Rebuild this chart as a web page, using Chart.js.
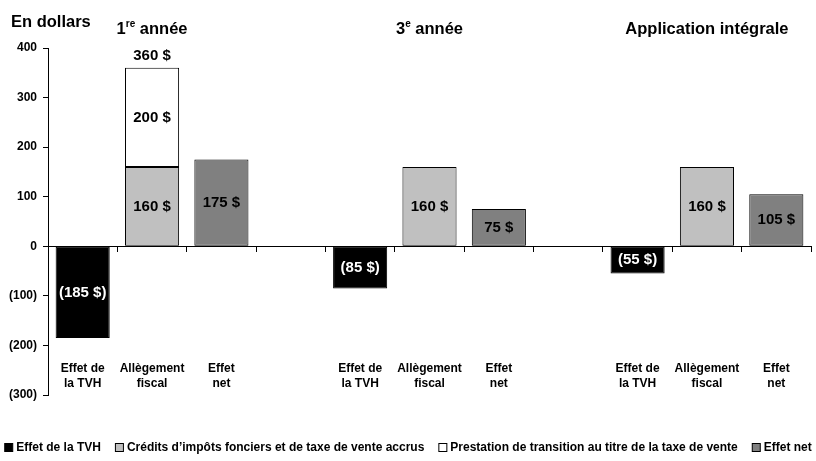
<!DOCTYPE html>
<html>
<head>
<meta charset="utf-8">
<script src="https://cdn.jsdelivr.net/npm/chart.js@4"></script>
<style>
  html, body { margin: 0; padding: 0; background: #fff; }
  #wrap { width: 816px; height: 461px; position: relative; }
</style>
</head>
<body>
<div id="wrap"><canvas id="chart"></canvas></div>
<script>
// catégories (une colonne vide sépare chaque période)
const categories = [
    ['Effet de', 'la TVH'], ['Allègement', 'fiscal'], ['Effet', 'net'], '',
    ['Effet de', 'la TVH'], ['Allègement', 'fiscal'], ['Effet', 'net'], '',
    ['Effet de', 'la TVH'], ['Allègement', 'fiscal'], ['Effet', 'net']
];
// périodes : [chiffre, exposant, reste], centrées sur la colonne du milieu
const periods = [['1', 're', ' année'], ['3', 'e', ' année'], ['Application intégrale', '', '']];
const periodColumns = [1, 5, 9];

// séries (en dollars)
const tvhEffect = [-185, null, null, null, -85, null, null, null, -55, null, null];
const taxCredits = [null, 160, null, null, null, 160, null, null, null, 160, null];
const transitionBenefit = [null, 200, null, null, null, null, null, null, null, null, null];
const netEffect = [null, null, 175, null, null, null, 75, null, null, null, 105];

const yTicks = [400, 300, 200, 100, 0, -100, -200, -300];

const FONT = "'Liberation Sans Narrow', 'Arial Narrow', 'Liberation Sans', Arial, sans-serif";
Chart.defaults.font.family = FONT;
Chart.defaults.font.weight = 'bold';
Chart.defaults.color = '#000';

// format des montants : négatifs entre parenthèses
function fmtDollars(v) {
    return v < 0 ? `(${-v} $)` : `${v} $`;
}

// étiquettes de valeurs, titres, libellés des colonnes et légende
const textPlugin = {
    id: 'textPlugin',
    afterDatasetsDraw(chart) {
        const ctx = chart.ctx;
        const x = chart.scales.x;
        const y = chart.scales.y;
        ctx.save();
        ctx.textAlign = 'center';
        ctx.textBaseline = 'middle';

        // valeurs à l'intérieur des barres
        chart.data.datasets.forEach((ds, di) => {
            const meta = chart.getDatasetMeta(di);
            meta.data.forEach((bar, i) => {
                const v = ds.data[i];
                if (v === null || v === undefined) return;
                ctx.font = `bold 15px ${FONT}`;
                ctx.fillStyle = ds.labelColor;
                ctx.fillText(fmtDollars(v), bar.x, (bar.y + bar.base) / 2);
            });
        });

        // total au-dessus de la pile
        const stackTop = chart.getDatasetMeta(2).data[1];
        const total = taxCredits[1] + transitionBenefit[1];
        ctx.fillStyle = '#000';
        ctx.font = `bold 15px ${FONT}`;
        ctx.fillText(fmtDollars(total), stackTop.x, stackTop.y - 12);

        // libellés des colonnes, en bas de la zone du graphique
        ctx.font = `bold 12px ${FONT}`;
        categories.forEach((lab, i) => {
            if (!lab) return;
            const cx = x.getPixelForValue(i);
            ctx.fillText(lab[0], cx, y.getPixelForValue(-246));
            ctx.fillText(lab[1], cx, y.getPixelForValue(-277));
        });

        // titres des périodes
        periods.forEach((p, k) => {
            const cx = x.getPixelForValue(periodColumns[k]);
            const cy = 29;
            ctx.font = `bold 16.5px ${FONT}`;
            const w0 = ctx.measureText(p[0]).width;
            const w2 = ctx.measureText(p[2]).width;
            ctx.font = `bold 10px ${FONT}`;
            const w1 = ctx.measureText(p[1]).width;
            let left = cx - (w0 + w1 + w2) / 2;
            ctx.textAlign = 'left';
            ctx.font = `bold 16.5px ${FONT}`;
            ctx.fillText(p[0], left, cy);
            ctx.font = `bold 10px ${FONT}`;
            ctx.fillText(p[1], left + w0, cy - 5);
            ctx.font = `bold 16.5px ${FONT}`;
            ctx.fillText(p[2], left + w0 + w1, cy);
            ctx.textAlign = 'center';
        });

        // titre de l'axe
        ctx.textAlign = 'left';
        ctx.font = `bold 16.5px ${FONT}`;
        ctx.fillText('En dollars', 11, 22);

        // légende sur une seule ligne, centrée sous le graphique
        const box = 8, boxGap = 4, itemGap = 14, ly = 447;
        ctx.font = `bold 12px ${FONT}`;
        const items = chart.data.datasets.map(ds => ({
            text: ds.label,
            color: ds.backgroundColor,
            w: ctx.measureText(ds.label).width
        }));
        const totalW = items.reduce((s, it) => s + box + boxGap + it.w, 0) + itemGap * (items.length - 1);
        let lx = Math.max(4, (chart.width - totalW) / 2);
        items.forEach(it => {
            ctx.fillStyle = it.color;
            ctx.fillRect(lx + 0.5, ly - box / 2 + 0.5, box, box);
            ctx.strokeStyle = '#000';
            ctx.lineWidth = 1;
            ctx.strokeRect(lx + 0.5, ly - box / 2 + 0.5, box, box);
            ctx.fillStyle = '#000';
            ctx.fillText(it.text, lx + box + boxGap, ly + 1);
            lx += box + boxGap + it.w + itemGap;
        });
        ctx.restore();
    }
};

const ctx = document.getElementById('chart').getContext('2d');
const chart = new Chart(ctx, {
    type: 'bar',
    data: {
        labels: categories,
        datasets: [
            {
                label: 'Effet de la TVH',
                data: tvhEffect,
                backgroundColor: '#000000',
                labelColor: '#ffffff'
            },
            {
                label: 'Crédits d’impôts fonciers et de taxe de vente accrus',
                data: taxCredits,
                backgroundColor: '#c0c0c0',
                labelColor: '#000000'
            },
            {
                label: 'Prestation de transition au titre de la taxe de vente',
                data: transitionBenefit,
                backgroundColor: '#ffffff',
                labelColor: '#000000'
            },
            {
                label: 'Effet net',
                data: netEffect,
                backgroundColor: '#808080',
                labelColor: '#000000'
            }
        ]
    },
    options: {
        responsive: true,
        maintainAspectRatio: false,
        animation: false,
        datasets: {
            bar: {
                borderColor: '#000',
                borderWidth: 1,
                borderSkipped: false,
                categoryPercentage: 1,
                barPercentage: 0.78
            }
        },
        layout: {
            padding: { top: 48, right: 5, left: 0, bottom: 66 }
        },
        plugins: {
            tooltip: { enabled: false },
            legend: { display: false }
        },
        scales: {
            x: {
                stacked: true,
                position: { y: 0 },
                offset: true,
                ticks: { display: false },
                grid: {
                    offset: true,
                    drawOnChartArea: false,
                    drawTicks: true,
                    tickLength: 5,
                    color: '#000'
                },
                border: { color: '#000', width: 1 }
            },
            y: {
                stacked: true,
                min: -300,
                max: 400,
                afterBuildTicks(scale) {
                    scale.ticks = yTicks.map(v => ({ value: v }));
                },
                afterFit(scale) {
                    scale.width = 48;
                },
                ticks: {
                    padding: 6,
                    font: { size: 12, weight: 'bold' },
                    color: '#000',
                    callback: v => (v < 0 ? `(${-v})` : `${v}`)
                },
                grid: {
                    drawOnChartArea: false,
                    drawTicks: true,
                    tickLength: 5,
                    color: '#000'
                },
                border: { color: '#000', width: 1 }
            }
        }
    },
    plugins: [textPlugin]
});
</script>
</body>
</html>
